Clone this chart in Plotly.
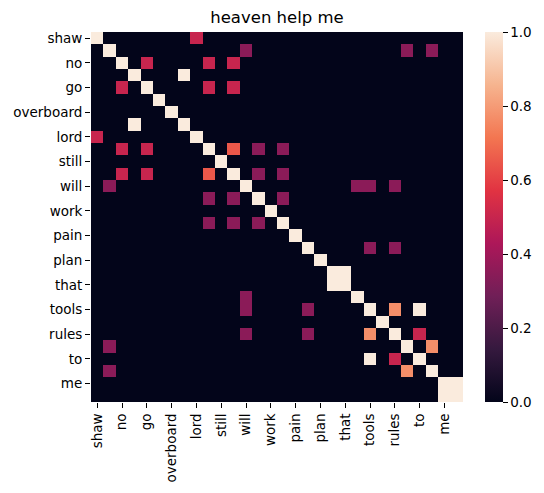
import numpy as np
import plotly.graph_objects as go

# Visible tick labels (every second word of the 30-word sequence is labelled)
tick_labels = ["shaw", "no", "go", "overboard", "lord", "still", "will", "work",
               "pain", "plan", "that", "tools", "rules", "to", "me"]
n_words = 30

# Off-diagonal similarity values (symmetric pairs, row index < column index)
pair_row = [0, 1, 1, 1, 2, 2, 2, 3, 4, 4, 9, 9, 9, 11, 11, 13, 12, 12, 12, 17, 17, 19, 22, 22, 24, 25, 28]
pair_col = [8, 12, 25, 27, 4, 9, 11, 7, 9, 11, 11, 13, 15, 13, 15, 15, 21, 22, 24, 22, 24, 20, 24, 26, 26, 27, 29]
pair_val = [0.5, 0.35, 0.35, 0.35, 0.5, 0.5, 0.5, 1.0, 0.5, 0.5, 0.65, 0.35, 0.35, 0.35, 0.35, 0.35,
            0.35, 0.35, 0.35, 0.35, 0.35, 1.0, 0.77, 1.0, 0.5, 0.77, 1.0]
diag_val = 1.0

z = np.zeros((n_words, n_words))
np.fill_diagonal(z, diag_val)
for r, c, v in zip(pair_row, pair_col, pair_val):
    z[r, c] = v
    z[c, r] = v

rocket = [
    [0.0, "#03051a"], [1/7, "#35193e"], [2/7, "#701f57"], [3/7, "#ad1759"],
    [4/7, "#e13342"], [5/7, "#f37651"], [6/7, "#f6b48f"], [1.0, "#faebdd"],
]

idx = list(range(n_words))
fig = go.Figure(go.Heatmap(
    z=z, x=idx, y=idx, colorscale=rocket, zmin=0, zmax=1,
    colorbar=dict(
        x=1.059, xanchor="left", xpad=0, y=0.5, yanchor="middle", ypad=0,
        len=1, lenmode="fraction", thickness=18, outlinewidth=0,
        tickvals=[0, 0.2, 0.4, 0.6, 0.8, 1.0], tickformat=".1f",
        ticks="outside", ticklen=5, tickcolor="black",
        tickfont=dict(family="DejaVu Sans", size=13.5, color="black"),
    ),
))

fig.update_layout(
    width=544, height=493,
    margin=dict(l=83, r=89, t=24, b=99, autoexpand=False),
    paper_bgcolor="white", plot_bgcolor="white",
    font=dict(family="DejaVu Sans", color="black"),
    title=dict(text="heaven help me", x=0.5, xref="paper", xanchor="center",
               y=1, yref="paper", yanchor="bottom", pad=dict(b=9),
               font=dict(size=16.5, family="DejaVu Sans", color="black")),
)
fig.update_xaxes(
    range=[-0.5, n_words - 0.5], tickvals=idx[::2], ticktext=tick_labels,
    tickangle=-90, ticks="outside", ticklen=5, tickcolor="black",
    tickfont=dict(size=13.5), showgrid=False, zeroline=False, showline=False,
    automargin=False,
)
fig.update_yaxes(
    range=[n_words - 0.5, -0.5], tickvals=idx[::2], ticktext=tick_labels,
    ticks="outside", ticklen=5, tickcolor="black",
    tickfont=dict(size=13.5), showgrid=False, zeroline=False, showline=False,
    automargin=False,
)

fig.write_html("out.html")
